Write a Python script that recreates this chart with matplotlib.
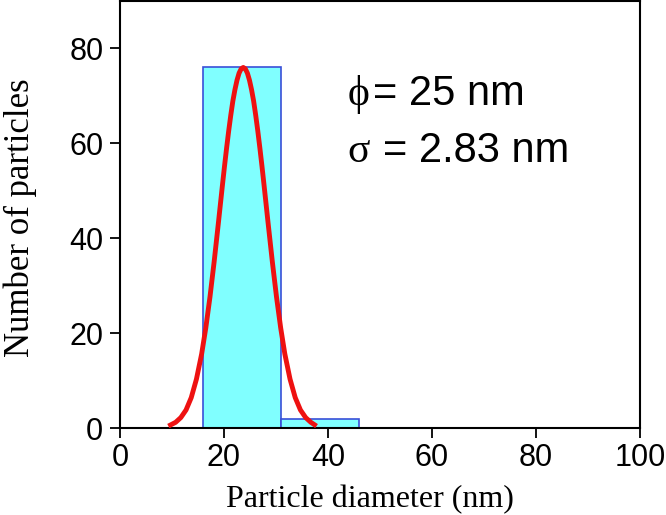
import matplotlib
matplotlib.use("Agg")

import matplotlib.pyplot as plt

# ── Data ──────────────────────────────────────────────────────────────────────
BIN_EDGES = [16, 31, 46]
COUNTS = [76, 2]

# Gaussian fit curve
FIT_X = [9.3, 10.7, 11.7, 12.7, 13.7, 14.7, 15.7, 16.5, 17.3, 18.1, 18.9, 19.7,
         20.1, 20.5, 20.9, 21.3, 21.7, 22.1, 22.5, 22.9, 23.3, 23.7, 24.1, 24.5,
         24.9, 25.3, 25.7, 26.1, 26.5, 26.9, 27.3, 27.7, 28.5, 29.3, 30.1, 30.9,
         31.7, 32.7, 33.7, 34.7, 35.7, 36.7, 37.8]
FIT_Y = [0.4, 1.2, 2.2, 3.8, 6.4, 10.3, 15.6, 21.1, 27.6, 35.0, 43.0, 51.2,
         55.2, 59.0, 62.6, 65.9, 68.9, 71.3, 73.3, 74.8, 75.7, 76.0, 75.7, 74.8,
         73.3, 71.3, 68.9, 65.9, 62.6, 59.0, 55.2, 51.2, 43.0, 35.0, 27.6, 21.1,
         15.6, 10.3, 6.4, 3.8, 2.2, 1.2, 0.4]

X_TICKS = [0, 20, 40, 60, 80, 100]
Y_TICKS = [0, 20, 40, 60, 80]

MEAN_LABEL = "= 25 nm"
SIGMA_LABEL = "= 2.83 nm"

# ── Style ─────────────────────────────────────────────────────────────────────
BAR_FACE = "#80FFFF"
BAR_EDGE = "#3A4FD8"
FIT_COLOR = "#EE1111"
SANS = "Liberation Sans"
SERIF = "Liberation Serif"

fig = plt.figure(figsize=(6.66, 5.15), dpi=100)
ax = fig.add_axes([120 / 666, 87 / 515, 520 / 666, 427 / 515])

widths = [b - a for a, b in zip(BIN_EDGES[:-1], BIN_EDGES[1:])]
ax.bar(BIN_EDGES[:-1], COUNTS, width=widths, align="edge",
       color=BAR_FACE, edgecolor=BAR_EDGE, linewidth=1.2, zorder=2)
ax.plot(FIT_X, FIT_Y, color=FIT_COLOR, linewidth=3.5, zorder=3,
        solid_joinstyle="round", solid_capstyle="butt")

ax.set_xlim(0, 100)
ax.set_ylim(0, 90)
ax.set_xticks(X_TICKS)
ax.set_yticks(Y_TICKS)
ax.tick_params(direction="out", length=7, width=1.3, labelsize=22,
               top=False, right=False)
ax.tick_params(axis="y", pad=5)
ax.tick_params(axis="x", pad=4)
for lbl in ax.get_xticklabels() + ax.get_yticklabels():
    lbl.set_family(SANS)
for sp in ax.spines.values():
    sp.set_linewidth(1.5)

fig.text(370 / 666, 8 / 515, "Particle diameter (nm)", family=SERIF,
         fontsize=23, ha="center", va="baseline")
fig.text(20 / 666, 1 - 218 / 515, "Number of particles", family=SERIF,
         fontsize=25, rotation=90, ha="center", va="center")

# fit parameters text
ax.text(43.7, 68, "\u03d5", family=SERIF, fontsize=30, va="baseline")
ax.text(48.6, 68, MEAN_LABEL, family=SANS, fontsize=30, va="baseline")
ax.text(43.7, 56, "\u03c3", family=SERIF, fontsize=30, va="baseline")
ax.text(50.6, 56, SIGMA_LABEL, family=SANS, fontsize=30, va="baseline")

fig.savefig("out.png", dpi=100)
